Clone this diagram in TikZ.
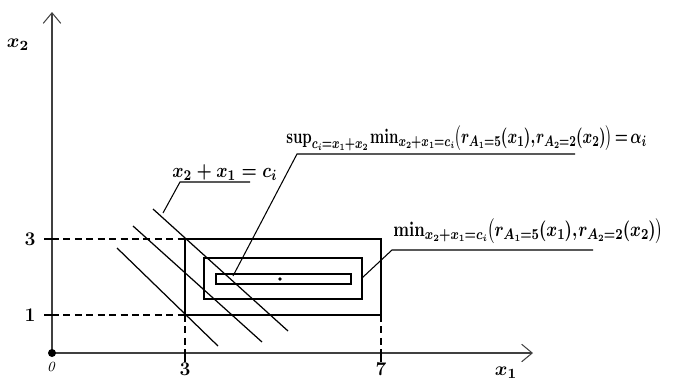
\documentclass[tikz,border=0pt]{standalone}
\usepackage{amsmath}
\usepackage{graphicx}
\usetikzlibrary{arrows.meta}
\newcommand{\tightmath}{\thinmuskip=1mu\medmuskip=1.5mu\thickmuskip=2.5mu\scriptspace=0pt}
\begin{document}
\begin{tikzpicture}[x=0.02cm,y=-0.02cm,
  axis/.style={draw=black!75,line width=0.6pt},
  box/.style={draw=black,line width=0.9pt},
  diag/.style={draw=black,line width=0.7pt},
  guide/.style={draw=black,line width=0.6pt,dash pattern=on 4pt off 2.5pt},
  lead/.style={draw=black,line width=0.6pt},
  lbl/.style={font=\fontsize{11}{13}\selectfont\bfseries\boldmath,inner sep=0pt}]
\useasboundingbox (0,0) rectangle (681,379);
% axes
\coordinate (O) at (52,353);
\coordinate (ytip) at (52,12);
\coordinate (xtip) at (533,353);
\draw[axis,-{Straight Barb[length=6pt,width=10pt]}] (O) -- (ytip);
\draw[axis,-{Straight Barb[length=6pt,width=10pt]}] (O) -- (xtip);
\fill (O) circle (4);
\node[lbl] (x2) at (18,45) {$x_2$};
\node[lbl,anchor=north] (x1) at (506,367) {$x_1$};
\node[font=\fontsize{8}{9}\selectfont\itshape,inner sep=0pt] (zero) at (51,367) {0};
% corners
\coordinate (A) at (185,315);
\coordinate (B) at (381,239);
\coordinate (y3) at (52,239);
\coordinate (y1) at (52,315);
\coordinate (x3) at (185,353);
\coordinate (x7) at (381,353);
% ticks
\draw[line width=1pt] (44,239) -- (y3);
\draw[line width=1pt] (44,315) -- (y1);
\draw[line width=1pt] (185,353) -- (185,362);
\draw[line width=1pt] (381,353) -- (381,362);
\node[lbl] (t3y) at (30,239) {3};
\node[lbl] (t1y) at (30,315) {1};
\node[lbl] (t3x) at (185,369) {3};
\node[lbl] (t7x) at (381,369) {7};
% dashed guides
\draw[guide] (y3) -- (185,239);
\draw[guide] (y1) -- (A);
\draw[guide] (A) -- (x3);
\draw[guide] (381,315) -- (x7);
% rectangles
\draw[box] (A) rectangle (B);
\draw[box] (204,258) rectangle (362,299);
\draw[box] (216,274) rectangle (351,284);
\fill (280,279) circle (1.8);
\fill (A) circle (1.5);
% diagonal lines
\draw[diag] (153,209) -- (288,331);
\draw[diag] (133,226) -- (262,342);
\draw[diag] (117,248) -- (218,346);
% labels and leaders
\node[lbl,anchor=south west] (c) at (172,181) {\resizebox*{2.1cm}{0.32cm}{$x_2+x_1=c_i$}};
\draw[lead] (250,182) -- (180,182) -- (163,213);
\node[lbl,anchor=south west] (sup) at (286,151) {\resizebox*{7.2cm}{0.5cm}{$\tightmath\mathbf{sup}_{c_i=x_1+x_2}\;\mathbf{min}_{x_2+x_1=c_i}\bigl(r_{A_1=5}(x_1),r_{A_2=2}(x_2)\bigr)=\alpha_i$}};
\draw[lead] (575,154) -- (297,154) -- (233,276);
\node[lbl,anchor=south west] (mn) at (393,244) {\resizebox*{5.4cm}{0.5cm}{$\tightmath\mathbf{min}_{x_2+x_1=c_i}\bigl(r_{A_1=5}(x_1),r_{A_2=2}(x_2)\bigr)$}};
\draw[lead] (593,250) -- (392,250) -- (362,278);
\end{tikzpicture}
\end{document}
